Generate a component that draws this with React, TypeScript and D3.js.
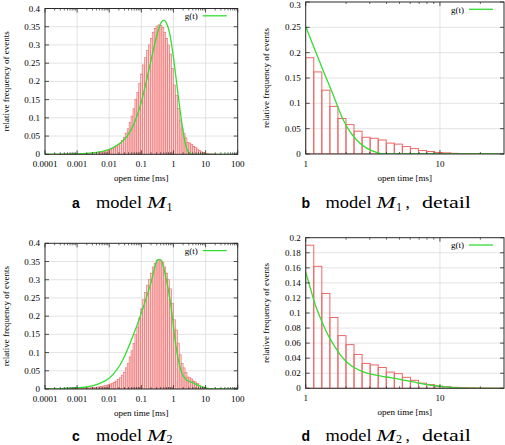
import React from 'react';
import * as d3 from 'd3';

// ---------- data ----------
// histogram of open times: log10-spaced bins, left edge of first bin and bin width (decades)
const firstBinLog = -4.02;
const binLogWidth = 0.06;
const histFreq = [
  0.0001, 0.0001, 0.0001, 0.0001, 0.0002, 0.0002, 0.0002, 0.0003, 0.0003,
  0.0004, 0.0004, 0.0005, 0.0006, 0.0007, 0.0008, 0.0009, 0.001,
  0.0011, 0.0013, 0.0015, 0.0017, 0.002, 0.0024, 0.0028, 0.0033, 0.0039, 0.0045,
  0.0052, 0.006, 0.007, 0.008, 0.009, 0.0105, 0.012, 0.014, 0.016, 0.019,
  0.022, 0.026, 0.031, 0.038, 0.046, 0.058, 0.07, 0.088, 0.105, 0.125,
  0.15, 0.17, 0.195, 0.22, 0.245, 0.265, 0.285, 0.3, 0.318, 0.335,
  0.345, 0.352, 0.355, 0.354, 0.348, 0.335, 0.318, 0.3, 0.275, 0.235,
  0.19, 0.162, 0.126, 0.094, 0.07, 0.058, 0.045, 0.033, 0.031, 0.0276,
  0.0215, 0.0195, 0.0146, 0.0106, 0.0068, 0.0049, 0.0028, 0.0022, 0.0013, 0.0009,
  0.0006, 0.0004, 0.0003, 0.0002, 0.0001,
];

// model density g(t): [open time ms, relative frequency]
const gM1: [number, number][] = [
  [0.0001, 0], [0.001, 0.001], [0.00406, 0.0055], [0.0106, 0.0146], [0.0216, 0.03],
  [0.0349, 0.048], [0.0563, 0.08], [0.0907, 0.13], [0.1465, 0.204], [0.236, 0.286],
  [0.338, 0.341], [0.43, 0.364], [0.507, 0.368], [0.614, 0.359], [0.78, 0.327],
  [0.991, 0.268], [1.259, 0.195], [1.597, 0.122], [2.03, 0.058], [2.58, 0.016],
  [3.27, 0.003], [4.16, 0], [10, 0], [100, 0],
];
const gM1Detail: [number, number][] = [
  [1, 0.252], [1.14, 0.213], [1.353, 0.164], [1.606, 0.116], [1.906, 0.067],
  [2.137, 0.044], [2.395, 0.0276], [2.686, 0.016], [3.01, 0.008], [3.375, 0.003],
  [3.78, 0], [10, 0], [30, 0],
];
const gM2: [number, number][] = [
  [0.0001, 0], [0.0003, 0.0005], [0.00047, 0.002], [0.002, 0.0055], [0.00515, 0.0156],
  [0.0083, 0.0247], [0.0134, 0.041], [0.0216, 0.066], [0.0348, 0.1025], [0.0562, 0.148],
  [0.0908, 0.198], [0.146, 0.253], [0.209, 0.299], [0.266, 0.336], [0.316, 0.354],
  [0.363, 0.356], [0.431, 0.35], [0.547, 0.317], [0.695, 0.272], [0.883, 0.212],
  [1.122, 0.135], [1.426, 0.0796], [1.807, 0.045], [2.588, 0.0247], [4.17, 0.0165],
  [6.73, 0.0082], [10.86, 0.0027], [15, 0.0005], [20, 0], [100, 0],
];
const gM2Detail: [number, number][] = [
  [1, 0.154], [1.077, 0.1345], [1.173, 0.112], [1.278, 0.0947], [1.392, 0.0792],
  [1.517, 0.0659], [1.653, 0.0549], [1.8, 0.0451], [2.02, 0.035], [2.26, 0.0283],
  [2.69, 0.0217], [3.19, 0.0181], [4.01, 0.015], [5.04, 0.012], [6.33, 0.0084],
  [7.96, 0.0049], [10, 0.0027], [12.6, 0.0009], [16, 0.0002], [20, 0], [30, 0],
];

const fullXTicks = [0.0001, 0.001, 0.01, 0.1, 1, 10, 100];
const fullXTickLabels = ['0.0001', '0.001', '0.01', '0.1', '1', '10', '100'];
const detailXTicks = [1, 10];
const detailXTickLabels = ['1', '10'];
const fullYTicks = [0, 0.05, 0.1, 0.15, 0.2, 0.25, 0.3, 0.35, 0.4];
const fullYTickLabels = ['0', '0.05', '0.1', '0.15', '0.2', '0.25', '0.3', '0.35', '0.4'];
const detailM1YTicks = [0, 0.05, 0.1, 0.15, 0.2, 0.25, 0.3];
const detailM1YTickLabels = ['0', '0.05', '0.1', '0.15', '0.2', '0.25', '0.3'];
const detailM2YTicks = [0, 0.02, 0.04, 0.06, 0.08, 0.1, 0.12, 0.14, 0.16, 0.18, 0.2];
const detailM2YTickLabels = ['0', '0.02', '0.04', '0.06', '0.08', '0.1', '0.12', '0.14', '0.16', '0.18', '0.2'];

const xTitle = 'open time [ms]';
const yTitle = 'relative frequency of events';
const legendLabel = 'g(t)';

// ---------- styles ----------
const SERIF = '"Liberation Serif", "Times New Roman", serif';
const SANS = '"Liberation Sans", Arial, sans-serif';
const GREEN = '#33dd33';
const RED = '#ee6666';
const GRID = '#dcdcdc';
const AXIS = '#2a2a2a';

type Box = { x0: number; x1: number; y0: number; y1: number };

function Panel(props: {
  id: string;
  box: Box;
  xDomain: [number, number];
  yMax: number;
  xTicks: number[];
  xTickLabels: string[];
  yTicks: number[];
  yTickLabels: string[];
  curve: [number, number][];
  detail: boolean;
}) {
  const { id, box, xDomain, yMax, xTicks, xTickLabels, yTicks, yTickLabels, curve, detail } = props;
  const x = d3.scaleLog().domain(xDomain).range([box.x0, box.x1]);
  const y = d3.scaleLinear().domain([0, yMax]).range([box.y1, box.y0]);

  const bars = histFreq.map((v, i) => {
    const lo = Math.pow(10, firstBinLog + i * binLogWidth);
    const hi = Math.pow(10, firstBinLog + (i + 1) * binLogWidth);
    return { lo, hi, v };
  }).filter(b => b.hi > xDomain[0] && b.lo < xDomain[1]);

  const line = d3.line<[number, number]>()
    .x(d => x(d[0]))
    .y(d => y(d[1]))
    .curve(d3.curveMonotoneX);

  // minor log ticks
  const minor: number[] = [];
  const dLo = Math.floor(Math.log10(xDomain[0]));
  const dHi = Math.ceil(Math.log10(xDomain[1]));
  for (let d = dLo; d < dHi; d++) {
    for (let m = 2; m <= 9; m++) {
      const t = m * Math.pow(10, d);
      if (t > xDomain[0] * 1.0001 && t < xDomain[1] * 0.9999) minor.push(t);
    }
  }
  const gridX = xTicks.filter(t => t > xDomain[0] * 1.0001 && t < xDomain[1] * 0.9999);
  const gridY = yTicks.filter(v => v > 0 && v < yMax - 1e-9);

  const majorLen = 4;
  const minorLen = 2;
  const cx = (box.x0 + box.x1) / 2;
  const cy = (box.y0 + box.y1) / 2;
  const yLabelX = box.x0 === 45 ? 9 : 268.5;

  return (
    <g>
      <defs>
        <clipPath id={`clip-${id}`}>
          <rect x={box.x0} y={box.y0} width={box.x1 - box.x0} height={box.y1 - box.y0} />
        </clipPath>
      </defs>
      {/* grid */}
      {gridX.map((t, i) => (
        <line key={`gx${i}`} x1={x(t)} x2={x(t)} y1={box.y0} y2={box.y1} stroke={GRID} strokeWidth={0.8} />
      ))}
      {gridY.map((v, i) => (
        <line key={`gy${i}`} x1={box.x0} x2={box.x1} y1={y(v)} y2={y(v)} stroke={GRID} strokeWidth={0.8} />
      ))}
      {/* histogram */}
      <g clipPath={`url(#clip-${id})`}>
        {bars.map((b, i) => (
          <rect
            key={`b${i}`}
            x={x(b.lo)}
            y={y(b.v)}
            width={x(b.hi) - x(b.lo)}
            height={y(0) - y(b.v)}
            fill={detail ? 'none' : '#fbd3d3'}
            stroke={RED}
            strokeWidth={detail ? 1 : 0.6}
          />
        ))}
        <path d={line(curve) || ''} fill="none" stroke={GREEN} strokeWidth={1.3} />
      </g>
      {/* border */}
      <rect x={box.x0} y={box.y0} width={box.x1 - box.x0} height={box.y1 - box.y0} fill="none" stroke={AXIS} strokeWidth={1} />
      {/* ticks */}
      {xTicks.map((t, i) => (
        <g key={`xt${i}`}>
          <line x1={x(t)} x2={x(t)} y1={box.y1} y2={box.y1 - majorLen} stroke={AXIS} strokeWidth={0.8} />
          <line x1={x(t)} x2={x(t)} y1={box.y0} y2={box.y0 + majorLen} stroke={AXIS} strokeWidth={0.8} />
          <text x={x(t)} y={box.y1 + 12.5} fontFamily={SERIF} fontSize={9} textAnchor="middle" fill="#000">
            {xTickLabels[i]}
          </text>
        </g>
      ))}
      {minor.map((t, i) => (
        <g key={`mt${i}`}>
          <line x1={x(t)} x2={x(t)} y1={box.y1} y2={box.y1 - minorLen} stroke={AXIS} strokeWidth={0.7} />
          <line x1={x(t)} x2={x(t)} y1={box.y0} y2={box.y0 + minorLen} stroke={AXIS} strokeWidth={0.7} />
        </g>
      ))}
      {yTicks.map((v, i) => (
        <g key={`yt${i}`}>
          <line x1={box.x0} x2={box.x0 + majorLen} y1={y(v)} y2={y(v)} stroke={AXIS} strokeWidth={0.8} />
          <line x1={box.x1} x2={box.x1 - majorLen} y1={y(v)} y2={y(v)} stroke={AXIS} strokeWidth={0.8} />
          <text x={box.x0 - 5} y={Math.max(y(v) + 3, 7.5)} fontFamily={SERIF} fontSize={9} textAnchor="end" fill="#000">
            {yTickLabels[i]}
          </text>
        </g>
      ))}
      {/* axis titles */}
      <text x={cx} y={box.y1 + 26.5} fontFamily={SERIF} fontSize={9} textAnchor="middle" fill="#000">
        {xTitle}
      </text>
      <text
        transform={`translate(${yLabelX},${cy}) rotate(-90)`}
        fontFamily={SERIF}
        fontSize={9}
        textAnchor="middle"
        fill="#000"
      >
        {yTitle}
      </text>
      {/* legend */}
      <text x={box.x1 - 40} y={box.y0 + 10.5} fontFamily={SERIF} fontSize={9} textAnchor="end" fill="#000">
        {legendLabel}
      </text>
      <line x1={box.x1 - 35} x2={box.x1 - 11} y1={box.y0 + 7.3} y2={box.y0 + 7.3} stroke={GREEN} strokeWidth={1.3} />
    </g>
  );
}

function Caption(props: { x: number; y: number; letter: string; idx: string; detail: boolean }) {
  const { x, y, letter, idx, detail } = props;
  return (
    <g fill="#000">
      <text x={x} y={y} fontFamily={SANS} fontWeight="bold" fontSize={14}>{letter}</text>
      <text x={x + 24} y={y} fontFamily={SERIF} fontSize={17.5} textLength={46} lengthAdjust="spacingAndGlyphs">model</text>
      <text x={x + 75} y={y} fontFamily={SERIF} fontStyle="italic" fontSize={17.5} textLength={19} lengthAdjust="spacingAndGlyphs">M</text>
      <text x={x + 94.5} y={y + 2.5} fontFamily={SERIF} fontSize={12}>{idx}</text>
      {detail && (
        <>
          <text x={x + 104} y={y} fontFamily={SERIF} fontSize={17.5}>,</text>
          <text x={x + 120.5} y={y} fontFamily={SERIF} fontSize={17.5} textLength={49} lengthAdjust="spacingAndGlyphs">detail</text>
        </>
      )}
    </g>
  );
}

export default function App() {
  const boxA: Box = { x0: 45, x1: 237.7, y0: 8.5, y1: 154.3 };
  const boxB: Box = { x0: 305.7, x1: 504, y0: 2, y1: 154 };
  const boxC: Box = { x0: 45, x1: 237.7, y0: 243.3, y1: 389 };
  const boxD: Box = { x0: 305.7, x1: 504, y0: 237.7, y1: 388.3 };
  return (
    <svg
      width={505}
      height={445}
      viewBox="0 0 505 445"
      style={{ position: 'absolute', left: 0, top: 0, background: '#fff' }}
    >
      <rect x={0} y={0} width={505} height={445} fill="#fff" />
      <Panel id="a" box={boxA} xDomain={[0.0001, 100]} yMax={0.4} xTicks={fullXTicks} xTickLabels={fullXTickLabels}
        yTicks={fullYTicks} yTickLabels={fullYTickLabels} curve={gM1} detail={false} />
      <Panel id="b" box={boxB} xDomain={[1, 30]} yMax={0.3} xTicks={detailXTicks} xTickLabels={detailXTickLabels}
        yTicks={detailM1YTicks} yTickLabels={detailM1YTickLabels} curve={gM1Detail} detail={true} />
      <Panel id="c" box={boxC} xDomain={[0.0001, 100]} yMax={0.4} xTicks={fullXTicks} xTickLabels={fullXTickLabels}
        yTicks={fullYTicks} yTickLabels={fullYTickLabels} curve={gM2} detail={false} />
      <Panel id="d" box={boxD} xDomain={[1, 30]} yMax={0.2} xTicks={detailXTicks} xTickLabels={detailXTickLabels}
        yTicks={detailM2YTicks} yTickLabels={detailM2YTickLabels} curve={gM2Detail} detail={true} />
      <Caption x={72} y={208.3} letter="a" idx="1" detail={false} />
      <Caption x={301.5} y={208.3} letter="b" idx="1" detail={true} />
      <Caption x={72} y={440.5} letter="c" idx="2" detail={false} />
      <Caption x={301.5} y={440.5} letter="d" idx="2" detail={true} />
    </svg>
  );
}
